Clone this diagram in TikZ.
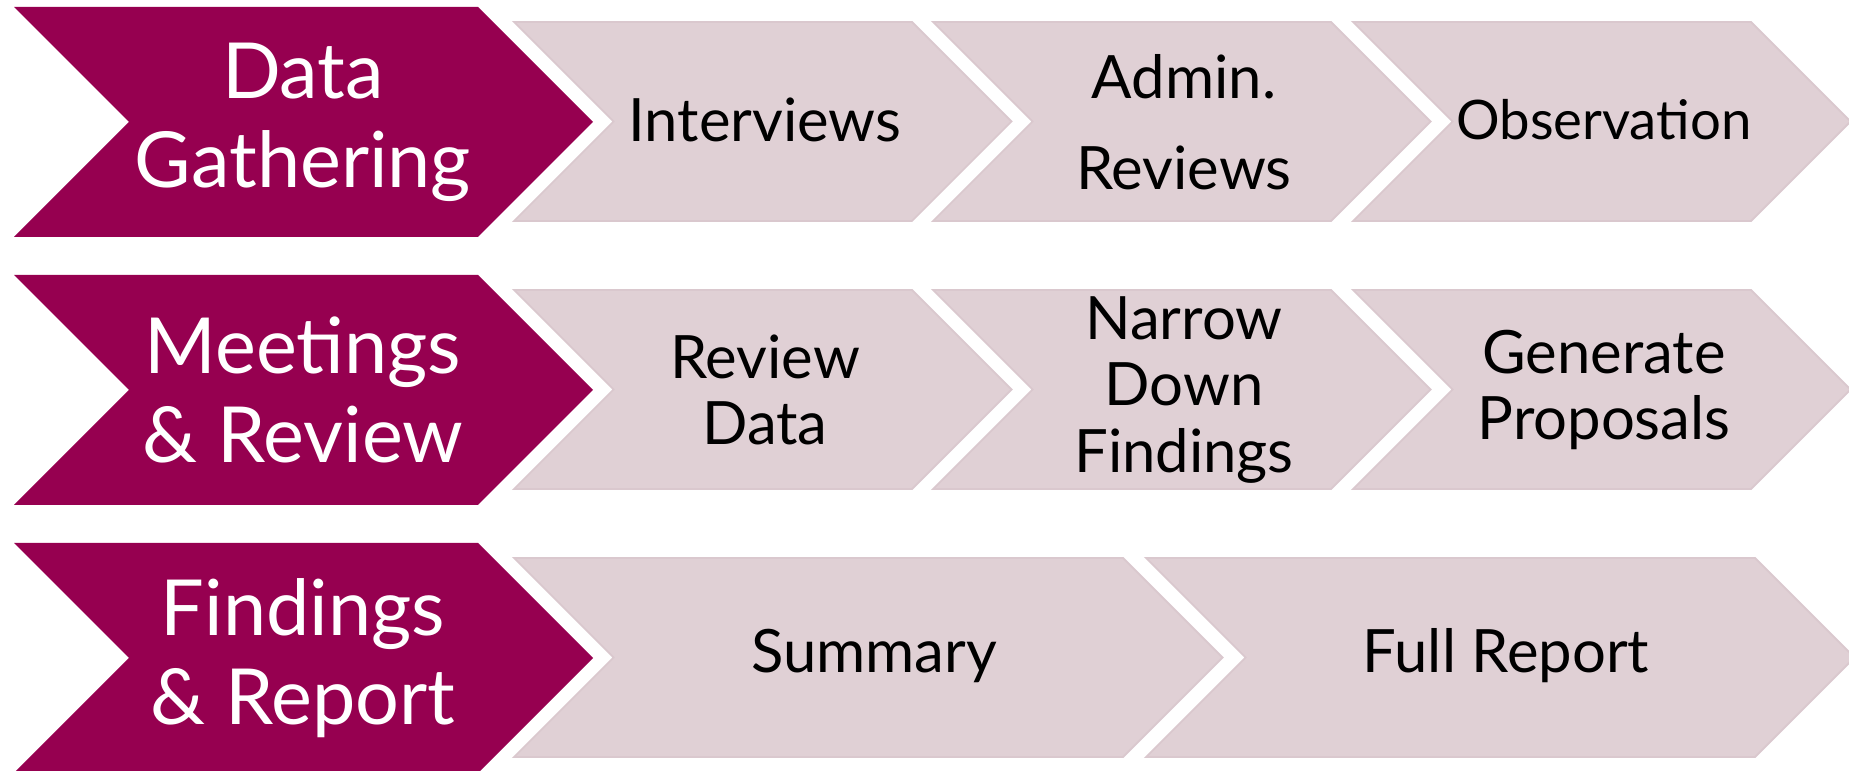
\documentclass[tikz,border=0pt]{standalone}
\usepackage{fontspec}
\setmainfont{Lato}
\definecolor{stagered}{RGB}{150,0,80}
\definecolor{steppink}{RGB}{224,208,213}
\definecolor{stepedge}{RGB}{218,200,206}
% chevron: style, left x, top y, width up to the shoulder, height
\newcommand{\chev}[5]{\path[#1] (#2,#3) -- ++(#4,0) -- ++(#5/2,#5/2) -- ++(-#5/2,#5/2) -- ++(-#4,0) -- ++(#5/2,-#5/2) -- cycle;}

\begin{document}
\begin{tikzpicture}[x=0.01cm, y=-0.01cm,
    stage/.style={fill=stagered},
    task/.style={fill=steppink, draw=stepedge, line width=0.5pt},
    stagetxt/.style={text=white, align=center, font=\fontsize{22}{25.3}\selectfont},
    tasktxt/.style={text=black, align=center, font=\fontsize{17}{19}\selectfont}]
    \useasboundingbox (0,0) rectangle (1849,771);

    % row 1
    \chev{stage}{14}{7}{464}{230}
    \chev{task}{514}{22}{398}{199}
    \chev{task}{933}{22}{398}{199}
    \chev{task}{1353}{22}{398}{199}
    \node[stagetxt] (dg) at (303,122) {Data\\Gathering};
    \node[tasktxt] (interviews) at (765,120) {Interviews};
    \node[tasktxt] (admin) at (1184,122) {Admin.\\[7pt]Reviews};
    \node[tasktxt, font=\fontsize{15.5}{19}\selectfont] (observation) at (1604,120) {Observation};

    % row 2
    \chev{stage}{14}{275}{464}{230}
    \chev{task}{514}{290}{398}{199}
    \chev{task}{933}{290}{398}{199}
    \chev{task}{1353}{290}{398}{199}
    \node[stagetxt] (mr) at (303,390) {Meetings\\\& Review};
    \node[tasktxt] (reviewdata) at (765,390) {Review\\Data};
    \node[tasktxt] (narrow) at (1184,390) {Narrow\\Down\\Findings};
    \node[tasktxt] (proposals) at (1604,390) {Generate\\Proposals};

    % row 3
    \chev{stage}{14}{543}{464}{230}
    \chev{task}{514}{558}{609}{199}
    \chev{task}{1146}{558}{609}{199}
    \node[stagetxt] (fr) at (303,658) {Findings\\\& Report};
    \node[tasktxt] (summary) at (874,656) {Summary};
    \node[tasktxt] (fullreport) at (1506,656) {Full Report};
\end{tikzpicture}
\end{document}
